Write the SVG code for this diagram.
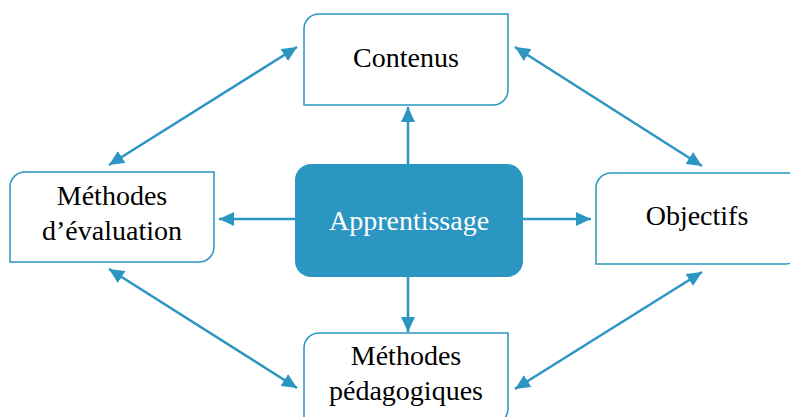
<svg xmlns="http://www.w3.org/2000/svg" width="790" height="417" viewBox="0 0 790 417">
<style>
.box{fill:#ffffff;stroke:#2B96C1;stroke-width:1.5}
.center{fill:#2B96C1}
.lbl{font-family:'Liberation Serif','Times New Roman',serif;font-size:28px;fill:#000;text-anchor:middle}
.lblw{font-family:'Liberation Serif','Times New Roman',serif;font-size:28px;fill:#fff;text-anchor:middle}
.conn{stroke:#2B96C1;stroke-width:2.5;fill:none}
</style>
<defs>
<marker id="ah" markerUnits="userSpaceOnUse" markerWidth="16" markerHeight="14" refX="15" refY="7" orient="auto-start-reverse" viewBox="0 0 16 14">
<path d="M0,0 L15,7 L0,14 Z" fill="#2B96C1"/>
</marker>
</defs>
<rect width="790" height="417" fill="#ffffff"/>
<g id="connectors">
<path class="conn" d="M408,164 L408,107" marker-end="url(#ah)"/>
<path class="conn" d="M295,219 L219,219" marker-end="url(#ah)"/>
<path class="conn" d="M523,219 L591,219" marker-end="url(#ah)"/>
<path class="conn" d="M408,277 L408,332" marker-end="url(#ah)"/>
<path class="conn" d="M297,47 L109,165" marker-start="url(#ah)" marker-end="url(#ah)"/>
<path class="conn" d="M515,47 L702,166" marker-start="url(#ah)" marker-end="url(#ah)"/>
<path class="conn" d="M109,269 L297,388" marker-start="url(#ah)" marker-end="url(#ah)"/>
<path class="conn" d="M702,272 L515,389" marker-start="url(#ah)" marker-end="url(#ah)"/>
</g>
<g id="contenus">
<path class="box" d="M319,14 H508 V90 A15,15 0 0 1 493,105 H304 V29 A15,15 0 0 1 319,14 Z"/>
<text class="lbl" x="406" y="67">Contenus</text>
</g>
<g id="methodes-evaluation">
<path class="box" d="M25,172 H214 V247 A15,15 0 0 1 199,262 H10 V187 A15,15 0 0 1 25,172 Z"/>
<text class="lbl" x="112" y="205">Méthodes</text>
<text class="lbl" x="112" y="240">d’évaluation</text>
</g>
<g id="apprentissage">
<rect class="center" x="295" y="164" width="228" height="113" rx="16" ry="16"/>
<text class="lblw" x="409" y="230">Apprentissage</text>
</g>
<g id="objectifs">
<path class="box" d="M611,173 H800 V249 A15,15 0 0 1 785,264 H596 V188 A15,15 0 0 1 611,173 Z"/>
<text class="lbl" x="697" y="225">Objectifs</text>
</g>
<g id="methodes-pedagogiques">
<path class="box" d="M319,333 H508 V409 A15,15 0 0 1 493,424 H304 V348 A15,15 0 0 1 319,333 Z"/>
<text class="lbl" x="406" y="365">Méthodes</text>
<text class="lbl" x="406" y="400">pédagogiques</text>
</g>
</svg>
